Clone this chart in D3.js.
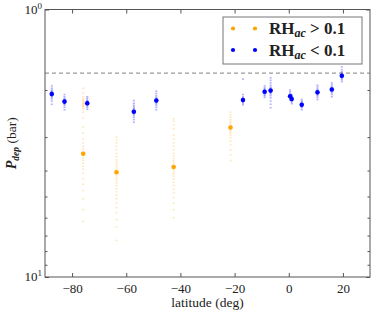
<!DOCTYPE html>
<html>
<head>
<meta charset="utf-8">
<script src="https://cdn.jsdelivr.net/npm/d3@7.9.0/dist/d3.min.js"></script>
<style>
  body { margin: 0; background: #fff; }
  svg { display: block; }
  text { font-family: "Liberation Serif", serif; fill: #222; }
</style>
</head>
<body>
<div id="chart"></div>
<script>
// latitudes (deg) and depletion pressures (bar)
const orangeLat = [-75.9, -63.6, -42.5, -21.5];
const orangeP = [3.46, 4.06, 3.88, 2.76];
const orangeSamples = [
  [1.97, 2.05, 2.12, 2.16, 2.19, 2.21, 2.23, 2.25, 2.27, 2.29, 2.31, 2.35, 2.42, 2.55, 2.75, 2.9, 3.05, 3.15, 3.25, 3.32, 3.4, 3.5, 3.58, 3.66, 3.75, 3.85, 3.95, 4.1, 4.3, 4.5, 4.75, 5.1, 5.6, 6.2],
  [3.0, 3.08, 3.15, 3.25, 3.35, 3.45, 3.55, 3.65, 3.72, 3.8, 3.88, 3.95, 4.02, 4.1, 4.18, 4.26, 4.35, 4.45, 4.55, 4.68, 4.8, 4.95, 5.1, 5.3, 5.5, 5.75, 6.1, 6.5, 7.3],
  [2.56, 2.62, 2.7, 2.8, 2.95, 3.05, 3.15, 3.25, 3.35, 3.45, 3.52, 3.6, 3.68, 3.75, 3.82, 3.9, 3.98, 4.05, 4.12, 4.2, 4.3, 4.42, 4.55, 4.7, 4.85, 5.05, 5.3, 5.6, 6.0],
  [2.42, 2.48, 2.53, 2.58, 2.62, 2.66, 2.7, 2.73, 2.76, 2.79, 2.82, 2.86, 2.9, 2.96, 3.02, 3.1, 3.2, 3.35, 3.5, 3.67]
];

const blueLat = [-87.5, -82.8, -74.4, -57.2, -48.9, -16.9, -8.9, -6.7, 0.5, 1.1, 4.8, 10.6, 15.9, 19.6];
const blueP = [2.07, 2.21, 2.24, 2.41, 2.19, 2.18, 2.03, 2.01, 2.11, 2.16, 2.27, 2.04, 1.99, 1.77];
const blueSamples = [
  [1.93, 1.97, 2.0, 2.02, 2.03, 2.04, 2.05, 2.06, 2.07, 2.08, 2.09, 2.1, 2.11, 2.13, 2.16, 2.2, 2.26],
  [2.08, 2.12, 2.15, 2.17, 2.18, 2.19, 2.2, 2.21, 2.22, 2.23, 2.24, 2.26, 2.28, 2.32, 2.37],
  [2.12, 2.15, 2.18, 2.2, 2.21, 2.22, 2.23, 2.24, 2.25, 2.26, 2.27, 2.29, 2.32, 2.36],
  [2.19, 2.24, 2.28, 2.31, 2.34, 2.36, 2.38, 2.4, 2.41, 2.42, 2.44, 2.46, 2.49, 2.53, 2.58, 2.64],
  [2.02, 2.06, 2.1, 2.13, 2.15, 2.17, 2.18, 2.19, 2.2, 2.21, 2.23, 2.25, 2.28, 2.32, 2.37],
  [1.82, 2.08, 2.12, 2.14, 2.16, 2.17, 2.18, 2.19, 2.2, 2.22, 2.24, 2.27],
  [1.93, 1.96, 1.98, 2.0, 2.01, 2.02, 2.03, 2.04, 2.05, 2.06, 2.08, 2.1, 2.13],
  [1.8, 1.84, 1.88, 1.92, 1.95, 1.97, 1.99, 2.0, 2.01, 2.02, 2.03, 2.05, 2.07, 2.1, 2.14, 2.2, 2.26, 2.33],
  [2.0, 2.03, 2.06, 2.08, 2.09, 2.1, 2.11, 2.12, 2.13, 2.15, 2.18],
  [2.08, 2.1, 2.12, 2.14, 2.15, 2.16, 2.17, 2.18, 2.2, 2.22, 2.25],
  [2.17, 2.2, 2.22, 2.24, 2.25, 2.26, 2.27, 2.28, 2.29, 2.31, 2.33, 2.37],
  [1.92, 1.95, 1.98, 2.0, 2.02, 2.03, 2.04, 2.05, 2.06, 2.08, 2.1, 2.13, 2.17],
  [1.88, 1.91, 1.94, 1.96, 1.97, 1.98, 1.99, 2.0, 2.01, 2.03, 2.05, 2.08, 2.12],
  [1.64, 1.68, 1.71, 1.73, 1.75, 1.76, 1.77, 1.78, 1.79, 1.81, 1.83, 1.86]
];

const refP = 1.73;
const xTicks = [-80, -60, -40, -20, 0, 20];
const yTicks = [1, 2, 3, 4, 5, 6, 7, 8, 9, 10];

const width = 374, height = 315;
const area = { left: 45, right: 370, top: 9.5, bottom: 277 };

const svg = d3.select('#chart').append('svg')
  .attr('width', width)
  .attr('height', height);

const x = d3.scaleLinear().domain([-90, 30]).range([area.left, area.right]);
const y = d3.scaleLog().domain([1, 10]).range([area.top, area.bottom]);

const ORANGE = '#ffa500', BLUE = '#0000ff';

// dashed reference line
svg.append('line')
  .attr('x1', area.left).attr('x2', area.right)
  .attr('y1', y(refP)).attr('y2', y(refP))
  .attr('stroke', '#999').attr('stroke-width', 1.2)
  .attr('stroke-dasharray', '4,3');

function drawSeries(lats, ps, samples, color, op) {
  const g = svg.append('g');
  lats.forEach((lat, i) => {
    g.selectAll(null)
      .data(samples[i])
      .join('rect')
      .attr('x', x(lat) - 1)
      .attr('y', (d) => y(d) - 0.8)
      .attr('width', 2)
      .attr('height', 1.6)
      .attr('fill', color)
      .attr('fill-opacity', op);
  });
  g.selectAll('circle')
    .data(lats)
    .join('circle')
    .attr('cx', (d) => x(d))
    .attr('cy', (d, i) => y(ps[i]))
    .attr('r', 2.3)
    .attr('fill', color);
}

drawSeries(orangeLat, orangeP, orangeSamples, ORANGE, 0.25);
drawSeries(blueLat, blueP, blueSamples, BLUE, 0.3);

// frame
svg.append('rect')
  .attr('x', area.left).attr('y', area.top)
  .attr('width', area.right - area.left).attr('height', area.bottom - area.top)
  .attr('fill', 'none').attr('stroke', '#555').attr('stroke-width', 1);

// x axes (ticks inside)
const xb = svg.append('g')
  .attr('transform', `translate(0,${area.bottom})`)
  .call(d3.axisBottom(x).tickValues(xTicks).tickSize(-4).tickPadding(7));
const xt = svg.append('g')
  .attr('transform', `translate(0,${area.top})`)
  .call(d3.axisTop(x).tickValues(xTicks).tickSize(-4).tickFormat(''));

// y axes (ticks inside, minor smaller)
const yl = svg.append('g')
  .attr('transform', `translate(${area.left},0)`)
  .call(d3.axisLeft(y).tickValues(yTicks).tickSize(0).tickFormat(''));
const yr = svg.append('g')
  .attr('transform', `translate(${area.right},0)`)
  .call(d3.axisRight(y).tickValues(yTicks).tickSize(0).tickFormat(''));
yl.selectAll('.tick line').attr('x2', (d) => (d === 1 || d === 10) ? 4 : 2.5);
yr.selectAll('.tick line').attr('x2', (d) => (d === 1 || d === 10) ? -4 : -2.5);

[xb, xt, yl, yr].forEach((g) => {
  g.select('.domain').remove();
  g.selectAll('.tick line').attr('stroke', '#555');
});
xb.selectAll('.tick text')
  .style('font-family', '"Liberation Serif", serif')
  .style('font-size', '13px')
  .attr('fill', '#222');

// y tick labels 10^0, 10^1
[1, 10].forEach((v, i) => {
  const t = svg.append('text')
    .attr('x', area.left - 3)
    .attr('y', y(v) + 4)
    .attr('text-anchor', 'end')
    .style('font-size', '13px');
  t.append('tspan').text('10');
  t.append('tspan').attr('dy', -5).style('font-size', '9px').text(String(i));
});

// axis labels
svg.append('text')
  .attr('x', (area.left + area.right) / 2)
  .attr('y', 307)
  .attr('text-anchor', 'middle')
  .style('font-size', '13.5px')
  .text('latitude (deg)');

const yLab = svg.append('text')
  .attr('transform', `translate(16,${(area.top + area.bottom) / 2}) rotate(-90)`)
  .attr('text-anchor', 'middle')
  .style('font-size', '13.5px');
yLab.append('tspan').style('font-weight', 'bold').style('font-style', 'italic').style('font-size', '14px').text('P');
yLab.append('tspan').attr('dy', 3).style('font-size', '9.5px').style('font-weight', 'bold').style('font-style', 'italic').text('dep');
yLab.append('tspan').attr('dy', -3).text(' (bar)');

// legend
const legend = svg.append('g');
legend.append('rect')
  .attr('x', 223).attr('y', 17)
  .attr('width', 139).attr('height', 47)
  .attr('fill', '#fff').attr('stroke', '#777').attr('stroke-width', 1);

const legendItems = [
  { color: ORANGE, op: '>' },
  { color: BLUE, op: '<' }
];
legendItems.forEach((d, i) => {
  const cy = 28.5 + i * 21.5;
  [233, 255].forEach((cx) => {
    legend.append('circle').attr('cx', cx).attr('cy', cy).attr('r', 2.1).attr('fill', d.color);
  });
  const t = legend.append('text')
    .attr('x', 269).attr('y', cy + 5.5)
    .style('font-size', '17px')
    .style('font-weight', 'bold');
  t.append('tspan').text('RH');
  t.append('tspan').attr('dy', 3).style('font-size', '12px').style('font-style', 'italic').text('ac');
  t.append('tspan').attr('dy', -3).text(` ${d.op} 0.1`);
});
</script>
</body>
</html>
